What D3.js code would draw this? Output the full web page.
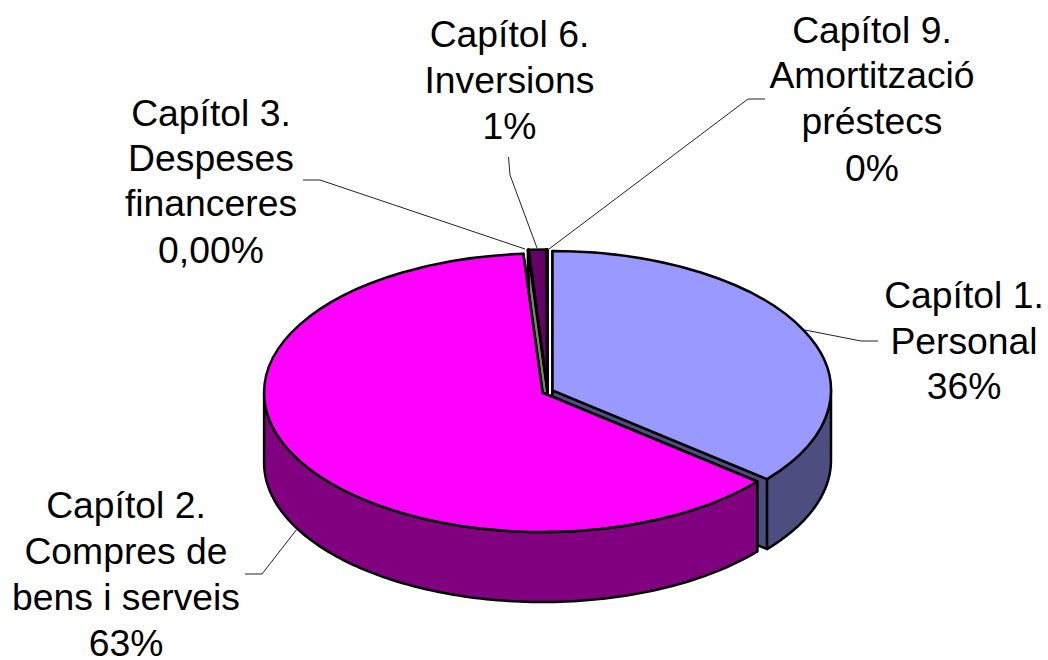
<!DOCTYPE html>
<html>
<head>
<meta charset="utf-8">
<script src="https://cdn.jsdelivr.net/npm/d3@7"></script>
<style>
    html, body { margin: 0; padding: 0; background: #fff; overflow: hidden; }
    text { font-family: "Liberation Sans", Arial, sans-serif; font-size: 37.3px; fill: #000; }
</style>
</head>
<body>
<div id="chart"></div>
<script>
// slices, clockwise from 12 o'clock
let categories = ["Capítol 1. Personal", "Capítol 2. Compres de bens i serveis", "Capítol 3. Despeses financeres", "Capítol 6. Inversions", "Capítol 9. Amortització préstecs"];
let values = [36, 62.9, 0.04, 1.0, 0.06];
let topColors = ["#9999ff", "#ff00ff", "#ffffcc", "#660066", "#ccffff"];
let sideColors = ["#4d4d80", "#800080", "#808066", "#330033", "#668080"];

// label lines as printed
let labelLines = [
    ["Capítol 1.", "Personal", "36%"],
    ["Capítol 2.", "Compres de", "bens i serveis", "63%"],
    ["Capítol 3.", "Despeses", "financeres", "0,00%"],
    ["Capítol 6.", "Inversions", "1%"],
    ["Capítol 9.", "Amortització", "préstecs", "0%"]
];
let labelX = [964, 126, 211, 509.5, 872];
let labelY = [[308, 354, 399], [518, 564, 610, 656], [126, 171, 216, 263], [47, 93, 139], [43, 88, 134, 181]];
let leaders = [
    [[805, 330], [861, 341], [878, 341]],
    [[297, 529], [262, 574], [245, 574]],
    [[525, 249], [320, 180], [303, 180]],
    [[537, 248], [510, 175], [508.5, 157]],
    [[549, 249], [748, 99], [765, 99]]
];

// pie geometry
let width = 1048, height = 660;
let cx = 547.5, cy = 391.5, radius = 278.5, tilt = 0.5, depth = 70, explode = 5.5;
let edge = 2.5;

let svg = d3.select("#chart").append("svg")
    .attr("width", width)
    .attr("height", height);

let pie = d3.pie().sort(null).startAngle(0).endAngle(2 * Math.PI);
let arcs = pie(values).map((d, i) => {
    let mid = (d.startAngle + d.endAngle) / 2;
    d.ox = cx + explode * Math.sin(mid);
    d.oy = cy - explode * Math.cos(mid) * tilt;
    d.index = i;
    return d;
});

// point on the rim of a slice, dz pushes it down to the base of the pie
function rim(d, a, dz) {
    return [d.ox + radius * Math.sin(a), d.oy - radius * tilt * Math.cos(a) + dz];
}

let line = d3.line();
let arcTop = d3.arc().innerRadius(0).outerRadius(radius);

// back slices first, magenta last because it sits in front of the blue cut
let drawOrder = [4, 3, 2, 0, 1];

drawOrder.forEach((idx) => {
    let d = arcs[idx];
    let g = svg.append("g");

    // flat cut faces
    [d.startAngle, d.endAngle].forEach((a) => {
        let p = rim(d, a, 0), q = rim(d, a, depth);
        g.append("path")
            .attr("d", line([[d.ox, d.oy], p, q, [d.ox, d.oy + depth]]) + "Z")
            .attr("fill", sideColors[idx])
            .attr("stroke", "#000")
            .attr("stroke-width", edge)
            .attr("stroke-linejoin", "round");
    });

    // outer wall, only the front half of the ellipse can be seen
    let a0 = Math.max(d.startAngle, Math.PI / 2);
    let a1 = Math.min(d.endAngle, 3 * Math.PI / 2);
    if (a1 > a0) {
        let angles = d3.range(0, 121).map((k) => a0 + (a1 - a0) * k / 120);
        let upper = angles.map((a) => rim(d, a, 0));
        let lower = angles.slice().reverse().map((a) => rim(d, a, depth));
        g.append("path")
            .attr("d", line(upper.concat(lower)) + "Z")
            .attr("fill", sideColors[idx])
            .attr("stroke", "#000")
            .attr("stroke-width", edge)
            .attr("stroke-linejoin", "round");
    }

    // top face
    g.append("path")
        .attr("transform", `translate(${d.ox},${d.oy}) scale(1,${tilt})`)
        .attr("d", arcTop(d))
        .attr("fill", topColors[idx])
        .attr("stroke", "#000")
        .attr("stroke-width", edge)
        .attr("stroke-linejoin", "round")
        .attr("vector-effect", "non-scaling-stroke");
});

// leader lines
svg.selectAll(".leader")
    .data(leaders)
    .enter()
    .append("path")
    .attr("class", "leader")
    .attr("d", (d) => line(d))
    .attr("fill", "none")
    .attr("stroke", "#222")
    .attr("stroke-width", 1);

// labels
labelLines.forEach((lines, i) => {
    svg.selectAll(".label-" + i)
        .data(lines)
        .enter()
        .append("text")
        .attr("class", "label-" + i)
        .attr("x", labelX[i])
        .attr("y", (d, j) => labelY[i][j])
        .attr("text-anchor", "middle")
        .text((d) => d);
});
</script>
</body>
</html>
